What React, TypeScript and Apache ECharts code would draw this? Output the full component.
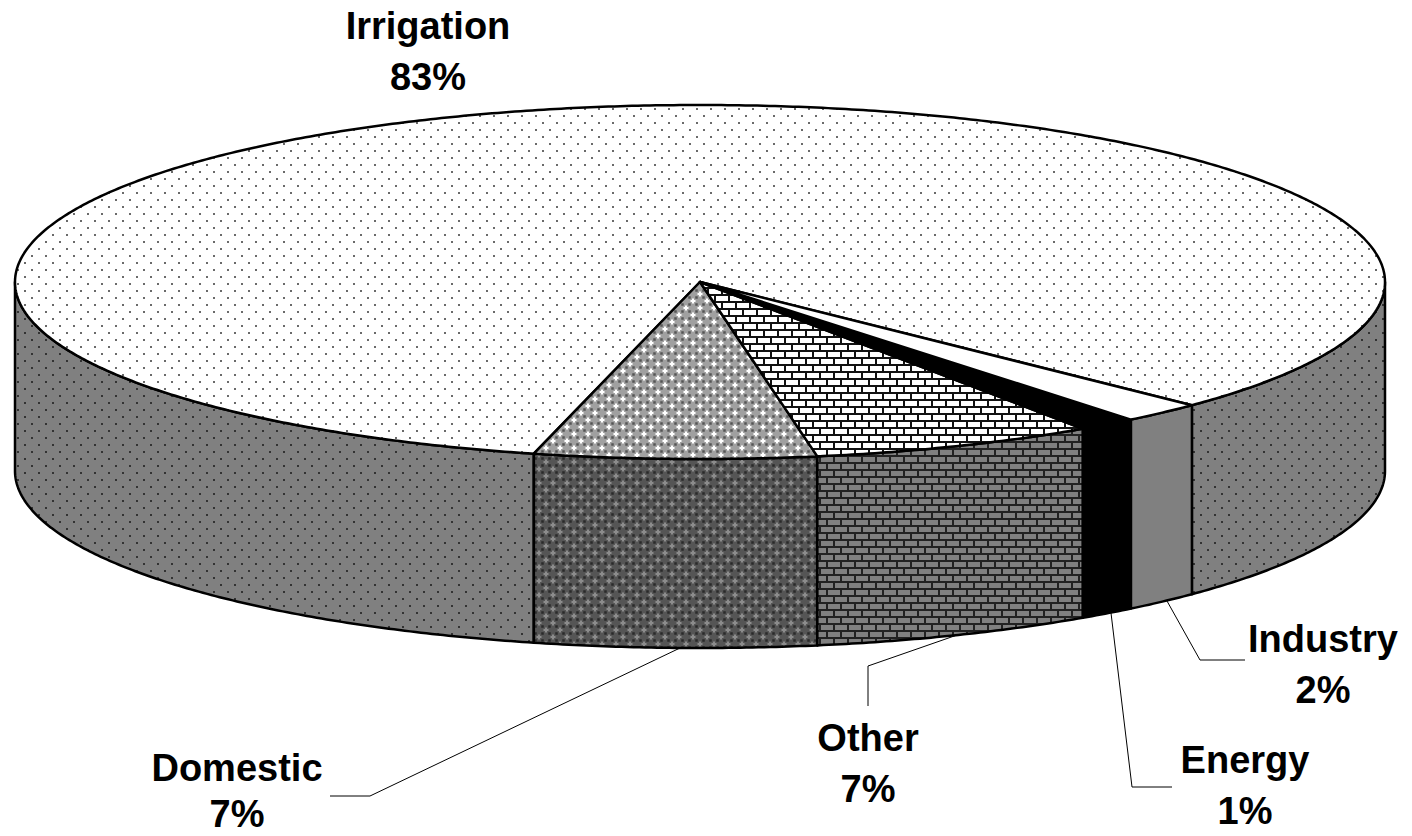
import React, { useEffect, useRef } from "react";
import * as echarts from "echarts";

// Data
const categories = ["Irrigation", "Domestic", "Other", "Energy", "Industry"];
const labelledPercents = [83, 7, 7, 1, 2];
// Share of the full circle each slice occupies in the drawing (the labels round these)
const drawnShares = [83.35, 6.64, 6.7, 1.39, 1.92];
const topPatterns = ["dotsTop", "crossTop", "brickTop", "black", "white"];
const sidePatterns = ["dotsSide", "crossSide", "brickSide", "black", "gray"];

// Layout
const W = 1412;
const H = 836;
const CX = 700;
const CY = 282;
const RX = 685;
const RY = 177;
const DEPTH = 189;
const START_DEG = 45.9; // first slice's start, measured from the screen-bottom of the ellipse
const FONT_CSS = 'bold 38px "Liberation Sans"';

const labelBoxes: Record<string, { x: number; y: number; gap: number }> = {
  Irrigation: { x: 428, y: 26, gap: 51 },
  Domestic: { x: 237, y: 768, gap: 46 },
  Other: { x: 868, y: 738, gap: 51 },
  Energy: { x: 1245, y: 760, gap: 51 },
  Industry: { x: 1323, y: 639, gap: 51 },
};
const leaders: Record<string, number[][]> = {
  Domestic: [[680, 648], [370, 796], [330, 796]],
  Other: [[960, 634], [868, 666], [868, 706]],
  Energy: [[1111, 613], [1132, 787], [1172, 787]],
  Industry: [[1167, 601], [1200, 660], [1245, 660]],
};

function tile(draw: (c: CanvasRenderingContext2D) => void) {
  const cv = document.createElement("canvas");
  cv.width = 14;
  cv.height = 14;
  draw(cv.getContext("2d") as CanvasRenderingContext2D);
  return { image: cv, repeat: "repeat" };
}
function dots(bg: string, dot: string) {
  return tile((c) => {
    c.fillStyle = bg;
    c.fillRect(0, 0, 14, 14);
    c.fillStyle = dot;
    c.fillRect(3, 3, 2, 2);
    c.fillRect(10, 10, 2, 2);
  });
}
function brick(bg: string, line: string) {
  return tile((c) => {
    c.fillStyle = bg;
    c.fillRect(0, 0, 14, 14);
    c.fillStyle = line;
    c.fillRect(0, 0, 14, 2);
    c.fillRect(0, 7, 14, 2);
    c.fillRect(0, 0, 2, 7);
    c.fillRect(7, 7, 2, 7);
  });
}
function cross(bg: string, light: string, dark: string) {
  return tile((c) => {
    c.fillStyle = bg;
    c.fillRect(0, 0, 14, 14);
    c.fillStyle = light;
    for (const [x, y] of [[0, 0], [7, 7], [14, 0], [0, 14], [14, 14]]) {
      c.fillRect(x - 2.5, y - 1, 5, 2);
      c.fillRect(x - 1, y - 2.5, 2, 5);
    }
    c.fillStyle = dark;
    for (const [x, y] of [[3.5, 3.5], [10.5, 3.5], [3.5, 10.5], [10.5, 10.5]]) {
      c.fillRect(x - 1.25, y - 1.25, 2.5, 2.5);
    }
  });
}

function fills(): Record<string, any> {
  return {
    black: "#000000",
    white: "#ffffff",
    gray: "#808080",
    dotsTop: dots("#ffffff", "#6a6a6a"),
    dotsSide: dots("#808080", "#333333"),
    brickTop: brick("#ffffff", "#111111"),
    brickSide: brick("#808080", "#222222"),
    crossTop: cross("#a0a0a0", "#ffffff", "#555555"),
    crossSide: cross("#555555", "#8c8c8c", "#2a2a2a"),
  };
}

const pt = (deg: number, dy = 0) => {
  const r = (deg * Math.PI) / 180;
  return [CX + RX * Math.sin(r), CY + RY * Math.cos(r) + dy];
};
function arc(a: number, b: number, dy = 0) {
  const out: number[][] = [];
  const n = Math.max(2, Math.ceil((b - a) / 0.5));
  for (let i = 0; i <= n; i++) out.push(pt(a + ((b - a) * i) / n, dy));
  return out;
}

export default function App() {
  const ref = useRef<HTMLDivElement>(null);
  useEffect(() => {
    document.body.style.margin = "0";
    document.body.style.background = "#ffffff";
    const chart = echarts.init(ref.current as HTMLDivElement, undefined, { renderer: "svg", width: W, height: H });
    const F = fills();
    const total = drawnShares.reduce((a, b) => a + b, 0);

    const renderItem = (params: any, api: any) => {
      const i = params.dataIndex;
      let before = 0;
      for (let k = 0; k < i; k++) before += drawnShares[k];
      const a = START_DEG + (before / total) * 360;
      const b = a + (Number(api.value(0)) / total) * 360;
      const stroke = { stroke: "#000", lineWidth: 2.5, lineJoin: "round" };
      const children: any[] = [];
      for (const [lo, hi] of [[-90, 90], [270, 450]]) {
        const s = Math.max(a, lo);
        const e = Math.min(b, hi);
        if (e > s) {
          children.push({
            type: "polygon",
            shape: { points: [...arc(s, e), ...arc(s, e, DEPTH).reverse()] },
            style: { fill: F[sidePatterns[i]], ...stroke },
          });
        }
      }
      children.push({
        type: "polygon",
        shape: { points: [[CX, CY], ...arc(a, b)] },
        style: { fill: F[topPatterns[i]], ...stroke },
      });
      return { type: "group", children };
    };

    const graphics: any[] = [];
    categories.forEach((name, i) => {
      const line = leaders[name];
      if (line) {
        graphics.push({
          type: "polyline",
          shape: { points: line },
          style: { stroke: "#000", lineWidth: 1, fill: "none" },
        });
      }
      [name, `${labelledPercents[i]}%`].forEach((text, row) => {
        graphics.push({
          type: "text",
          x: labelBoxes[name].x,
          y: labelBoxes[name].y + row * labelBoxes[name].gap,
          style: {
            text,
            align: "center",
            verticalAlign: "middle",
            fill: "#000",
            font: FONT_CSS,
            lineHeight: 28,
          },
        });
      });
    });

    chart.setOption({
      animation: false,
      backgroundColor: "#ffffff",
      series: [
        {
          type: "custom",
          coordinateSystem: "none",
          silent: true,
          renderItem,
          data: categories.map((name, i) => ({ name, value: [drawnShares[i]] })),
          encode: { value: 0 },
        },
      ],
      graphic: { elements: graphics },
    });
    return () => chart.dispose();
  }, []);
  return <div ref={ref} style={{ width: W, height: H, position: "absolute", left: 0, top: 0 }} />;
}
